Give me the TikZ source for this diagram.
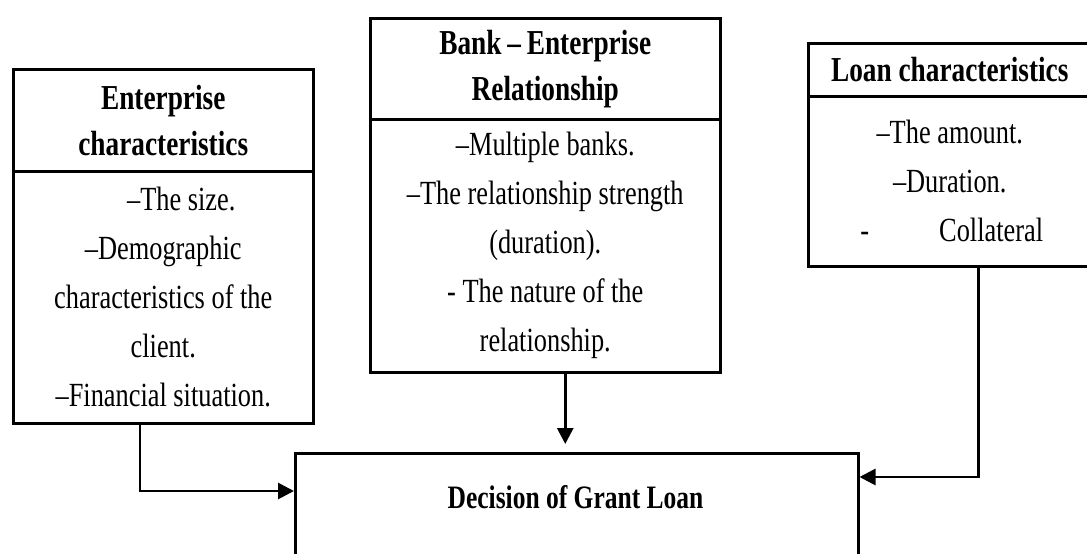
\documentclass[tikz,border=0pt]{standalone}
\usepackage{fontspec}
\setmainfont{Liberation Serif}[FakeStretch=0.78]
\usetikzlibrary{arrows.meta,calc}
\begin{document}
\begin{tikzpicture}[x=1pt,y=-1pt,
  box/.style={draw=black,line width=2.5pt,anchor=north west,inner sep=0pt,align=center},
  hfont/.style={font=\fontsize{35}{46}\selectfont\bfseries},
  bfont/.style={font=\fontsize{33.8}{49}\selectfont},
  conn/.style={draw=black,line width=2.8pt},
  arr/.style={conn,-{Triangle[length=16pt,width=16pt]}}]
\useasboundingbox (0,0) rectangle (1087,554);
\fill[white] (0,0) rectangle (1087,554);
% Enterprise box
\node[box,hfont,minimum width=300pt,minimum height=102pt] (ent-h) at (12,68)
  {Enterprise\\characteristics};
\node[box,bfont,minimum width=300pt,minimum height=252pt] (ent-b) at (12,170)
  {\hspace*{36pt}–The size.\\–Demographic\\characteristics of the\\client.\\–Financial situation.};
% Bank box
\node[box,hfont,minimum width=350pt,minimum height=101pt] (bank-h) at (369,17)
  {Bank\,–\,Enterprise\\Relationship};
\node[box,bfont,minimum width=350pt,minimum height=253pt] (bank-b) at (369,118)
  {–Multiple banks.\\–The relationship strength\\(duration).\\- The nature of the\\relationship.};
% Loan box
\node[box,hfont,minimum width=283pt,minimum height=53pt] (loan-h) at (807,42)
  {Loan characteristics};
\node[box,bfont,minimum width=283pt,minimum height=170pt] (loan-b) at (807,95)
  {–The amount.\\–Duration.\\\hspace*{4pt}-\hspace{70pt}Collateral};
% Decision box
\node[box,minimum width=563pt,minimum height=120pt] (dec) at (294,452) {};
\node[font=\fontsize{32.7}{38}\selectfont\bfseries] (dec-t) at (575.5,497) {Decision of Grant Loan};
% connectors
\draw[arr] ($(ent-b.south west)+(128,0)$) |- ($(dec.north west)+(0,39)$);
\draw[arr] ($(bank-b.south)+(20,0)$) -- ($(dec.north)+(-11.5,-8)$);
\draw[arr] ($(loan-b.south)+(28.5,0)$) |- ($(dec.north east)+(0,25)$);
\end{tikzpicture}
\end{document}
